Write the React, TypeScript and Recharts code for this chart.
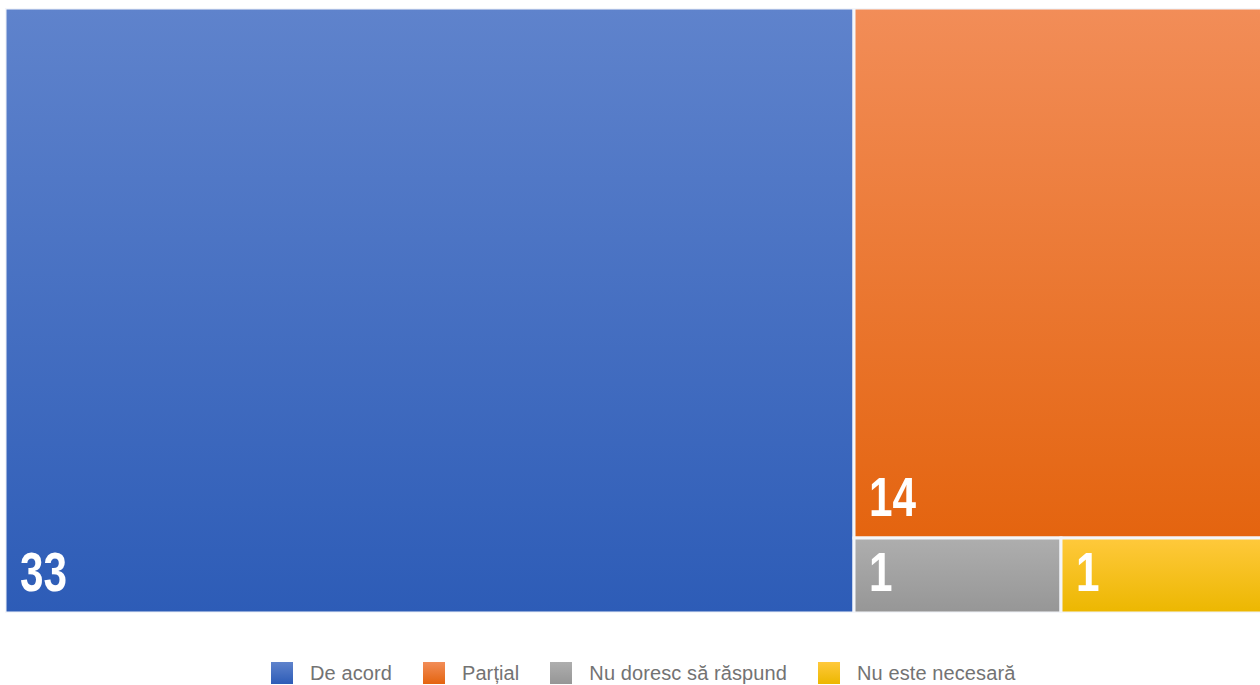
import { Treemap } from "recharts";

const categories = ["De acord", "Parțial", "Nu doresc să răspund", "Nu este necesară"];
const counts = [33, 14, 1, 1];
const topColors = ["#5F83CC", "#F28D58", "#AEAEAE", "#FFC93C"];
const bottomColors = ["#2D5CB7", "#E4640F", "#969696", "#ECB700"];

const data = categories.map((name, i) => ({ name, value: counts[i], idx: i }));

const labelFont = "'Liberation Sans', Arial, sans-serif";

// eslint-disable-next-line @typescript-eslint/no-explicit-any
function Cell(props: any) {
  const { x, y, width, height, depth, name, value } = props;
  if (depth !== 1) return null;
  const i = categories.indexOf(name);
  const gid = `cellGrad${i}`;
  const label = String(value);
  return (
    <g>
      <defs>
        <linearGradient id={gid} x1="0" y1="0" x2="0" y2="1">
          <stop offset="0%" stopColor={topColors[i]} />
          <stop offset="100%" stopColor={bottomColors[i]} />
        </linearGradient>
      </defs>
      <rect
        x={x}
        y={y}
        width={width}
        height={height}
        fill={`url(#${gid})`}
        stroke="#F4F6FA"
        strokeWidth={3}
      />
      {/* condensed bold numbers, squeezed to match the narrow look */}
      <text
        x={x + 15}
        y={y + height - 22}
        fill="#fff"
        fontFamily={labelFont}
        fontWeight={700}
        fontSize={55}
        stroke="none"
        textLength={label.length * 23.5}
        lengthAdjust="spacingAndGlyphs"
      >
        {label}
      </text>
    </g>
  );
}

export default function App() {
  return (
    <div
      style={{
        position: "absolute",
        left: 0,
        top: 0,
        width: 1260,
        height: 685,
        overflow: "hidden",
        background: "#fff",
      }}
    >
      <div style={{ position: "absolute", left: 5, top: 8 }}>
        <Treemap
          width={1260}
          height={605}
          data={data}
          dataKey="value"
          nameKey="name"
          content={<Cell />}
          isAnimationActive={false}
        />
      </div>
      <div
        style={{
          position: "absolute",
          left: 271,
          top: 662,
          display: "flex",
          alignItems: "flex-start",
          fontFamily: "'Liberation Sans', Arial, sans-serif",
          fontSize: 20,
          lineHeight: "20px",
          letterSpacing: 0.1,
          color: "#737373",
          whiteSpace: "nowrap",
        }}
      >
        {categories.map((c, i) => (
          <div key={c} style={{ display: "flex", alignItems: "flex-start", marginRight: 31 }}>
            <span
              style={{
                display: "inline-block",
                width: 22,
                height: 22,
                marginRight: 17,
                background: `linear-gradient(${topColors[i]}, ${bottomColors[i]})`,
              }}
            />
            <span style={{ paddingTop: 1 }}>{c}</span>
          </div>
        ))}
      </div>
    </div>
  );
}
